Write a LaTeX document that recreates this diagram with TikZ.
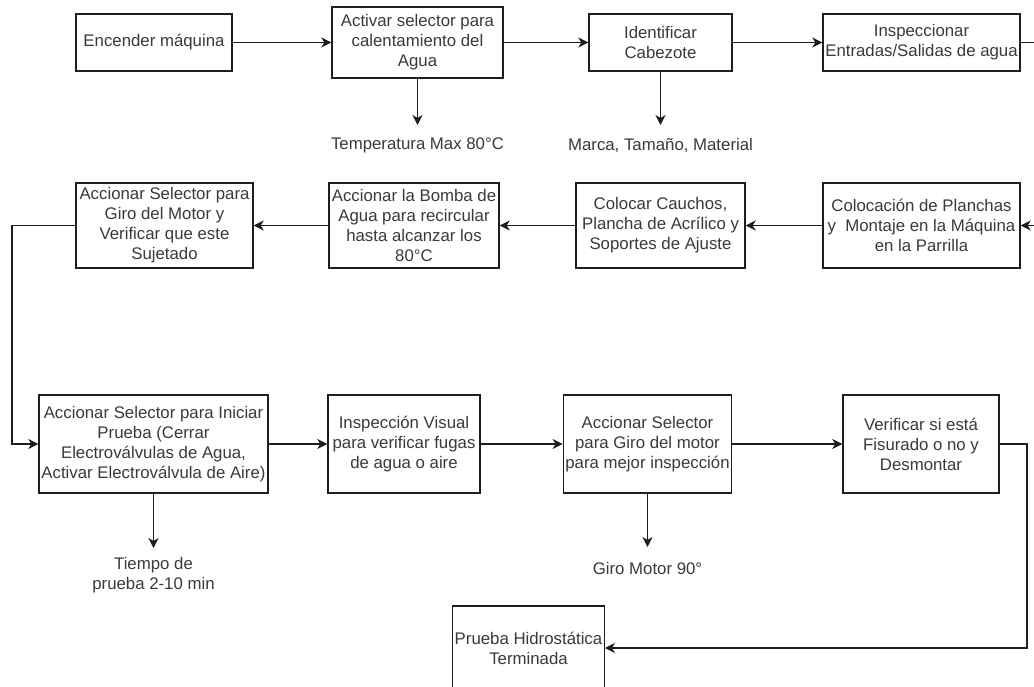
\documentclass[tikz,border=0pt]{standalone}
\usepackage{fontspec}
\setmainfont{Liberation Sans}
\usetikzlibrary{arrows.meta}
\definecolor{linec}{HTML}{1E1E1E}
\definecolor{textc}{HTML}{3A3A3A}
\begin{document}
\begin{tikzpicture}[x=1pt,y=-1pt,
  box/.style={draw=linec, line width=1.4pt, align=center, inner sep=2pt,
    text=textc, font=\fontsize{16.8}{20}\selectfont},
  lbl/.style={align=center, inner xsep=0pt, text=textc,
    font=\fontsize{16.8}{20}\selectfont},
  flow/.style={draw=linec, line width=1.4pt,
    -{Stealth[length=10pt,width=10pt,inset=3pt]}},
  link/.style={draw=linec, line width=1.4pt}]
\useasboundingbox (0,0) rectangle (1034,686);
\clip (0,0) rectangle (1034,686);
\fill[white] (0,0) rectangle (1034,686);

% first row
\node[box, minimum width=156pt, minimum height=57pt] (enc) at (154,42.5) {Encender máquina};
\node[box, minimum width=171pt, minimum height=71pt] (act) at (417.5,42.5)
  {Activar selector para\\calentamiento del\\Agua};
\node[box, minimum width=143pt, minimum height=57pt] (ide) at (660.5,42.5)
  {Identificar\\Cabezote};
\node[box, minimum width=197pt, minimum height=57pt] (ins) at (921.5,42.5)
  {Inspeccionar\\Entradas/Salidas de agua};

% second row
\node[box, minimum width=197pt, minimum height=85pt] (col) at (921.5,225.5)
  {Colocación de Planchas\\y\ \ Montaje en la Máquina\\en la Parrilla};
\node[box, minimum width=169pt, minimum height=85pt] (cau) at (660.5,225.5)
  {Colocar Cauchos,\\Plancha de Acrílico y\\Soportes de Ajuste};
\node[box, minimum width=170pt, minimum height=85pt] (bom) at (414,225.5)
  {Accionar la Bomba de\\Agua para recircular\\hasta alcanzar los\\80°C};
\node[box, minimum width=177pt, minimum height=85pt] (gir) at (164.5,225.5)
  {Accionar Selector para\\Giro del Motor y\\Verificar que este\\Sujetado};

% third row
\node[box, minimum width=229pt, minimum height=98pt] (ini) at (153.5,444)
  {Accionar Selector para Iniciar\\Prueba (Cerrar\\Electroválvulas de Agua,\\Activar Electroválvula de Aire)};
\node[box, minimum width=152pt, minimum height=98pt] (vis) at (404,444)
  {Inspección Visual\\para verificar fugas\\de agua o aire};
\node[box, minimum width=159pt, minimum height=98pt] (sel) at (647.5,444)
  {Accionar Selector\\para Giro del motor\\para mejor inspección};
\node[box, minimum width=156pt, minimum height=98pt] (ver) at (921,444)
  {Verificar si está\\Fisurado o no y\\Desmontar};

% final step
\node[box, minimum width=149pt, minimum height=84pt] (fin) at (528.5,648)
  {Prueba Hidrostática\\Terminada};

% side notes
\node[lbl, anchor=north, inner ysep=13pt] (tmax) at (417.5,125) {Temperatura Max 80°C};
\node[lbl, anchor=north, inner ysep=13pt] (marca) at (660.5,125) {Marca, Tamaño, Material};
\node[lbl, anchor=north, inner ysep=9pt] (tiempo) at (153.5,548) {Tiempo de\\prueba 2-10 min};
\node[lbl, anchor=north, inner ysep=15pt] (giro) at (647.5,547) {Giro Motor 90°};

% loose ends and bends
\coordinate (outA) at (1040,42.5);
\coordinate (inB) at (1040,225.5);
\coordinate (lft) at (12,330);
\coordinate (rgt) at (1027,560);

% connectors
\draw[flow] (enc) -- (act);
\draw[flow] (act) -- (ide);
\draw[flow] (ide) -- (ins);
\draw[link] (ins.east) -- (outA);
\draw[flow] (inB) -- (col.east);
\draw[flow] (col) -- (cau);
\draw[flow] (cau) -- (bom);
\draw[flow] (bom) -- (gir);
\draw[flow] (gir.west) -| (lft) |- (ini.west);
\draw[flow] (ini) -- (vis);
\draw[flow] (vis) -- (sel);
\draw[flow] (sel) -- (ver);
\draw[flow] (ver.east) -| (rgt) |- (fin.east);
\draw[flow] (act.south) -- (tmax.north);
\draw[flow] (ide.south) -- (marca.north);
\draw[flow] (ini.south) -- (tiempo.north);
\draw[flow] (sel.south) -- (giro.north);
\end{tikzpicture}
\end{document}
